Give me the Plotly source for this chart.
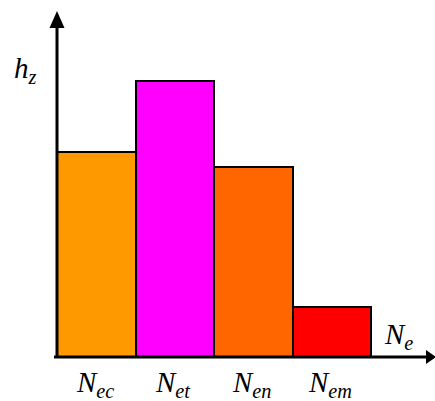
import plotly.graph_objects as go

categories = ["ec", "et", "en", "em"]
values = [2.05, 2.76, 1.90, 0.50]
colors = ["#FF9900", "#FF00FF", "#FF6600", "#FF0000"]
y_label = "z"
x_label = "e"

W, H = 435, 401
FONT = "Liberation Serif, Times New Roman, serif"
FS = 29

def px(x):
    return x / W

def py(y):
    return 1 - y / H

xs = list(range(len(categories)))

fig = go.Figure()
fig.add_trace(go.Bar(
    x=xs, y=values, width=1,
    marker=dict(color=colors, line=dict(color="black", width=2)),
    hoverinfo="skip",
))

shapes = [
    dict(type="line", xref="paper", yref="paper", x0=px(57), x1=px(57), y0=py(358), y1=py(26),
         line=dict(color="black", width=3), layer="above"),
    dict(type="path", xref="paper", yref="paper",
         path=f"M {px(57)},{py(11)} L {px(49.5)},{py(28)} L {px(64.5)},{py(28)} Z",
         fillcolor="black", line=dict(color="black", width=0), layer="above"),
    dict(type="line", xref="paper", yref="paper", x0=px(54), x1=px(428), y0=py(357), y1=py(357),
         line=dict(color="black", width=3), layer="above"),
    dict(type="path", xref="paper", yref="paper",
         path=f"M {px(436)},{py(357)} L {px(426)},{py(350)} L {px(426)},{py(364)} Z",
         fillcolor="black", line=dict(color="black", width=0), layer="above"),
]

annotations = []
for i, c in enumerate(categories):
    annotations.append(dict(
        x=i - 0.02, y=-0.265, xref="x", yref="y", showarrow=False,
        text=f"<i>N<sub>{c}</sub></i>", font=dict(family=FONT, size=FS, color="black"),
        xanchor="center", yanchor="middle",
    ))
annotations.append(dict(x=px(25), y=py(70), xref="paper", yref="paper", showarrow=False,
                        text=f"<i>h<sub>{y_label}</sub></i>", font=dict(family=FONT, size=FS, color="black"),
                        xanchor="center", yanchor="middle"))
annotations.append(dict(x=px(398), y=py(336), xref="paper", yref="paper", showarrow=False,
                        text=f"<i>N<sub>{x_label}</sub></i>", font=dict(family=FONT, size=FS, color="black"),
                        xanchor="center", yanchor="middle"))

x0 = -0.5 - 57 / 78.5
x1 = -0.5 + (W - 57) / 78.5
fig.update_layout(
    width=W, height=H,
    margin=dict(l=0, r=0, t=0, b=0),
    paper_bgcolor="white", plot_bgcolor="white",
    showlegend=False,
    font=dict(family=FONT),
    xaxis=dict(range=[x0, x1], visible=False, fixedrange=True),
    yaxis=dict(range=[-(H - 357) / 100, 357 / 100], visible=False, fixedrange=True),
    shapes=shapes, annotations=annotations,
    bargap=0,
)
fig.write_html("out.html", config={"displayModeBar": False},
               post_script="document.body.style.margin='0';document.body.style.overflow='hidden';")
